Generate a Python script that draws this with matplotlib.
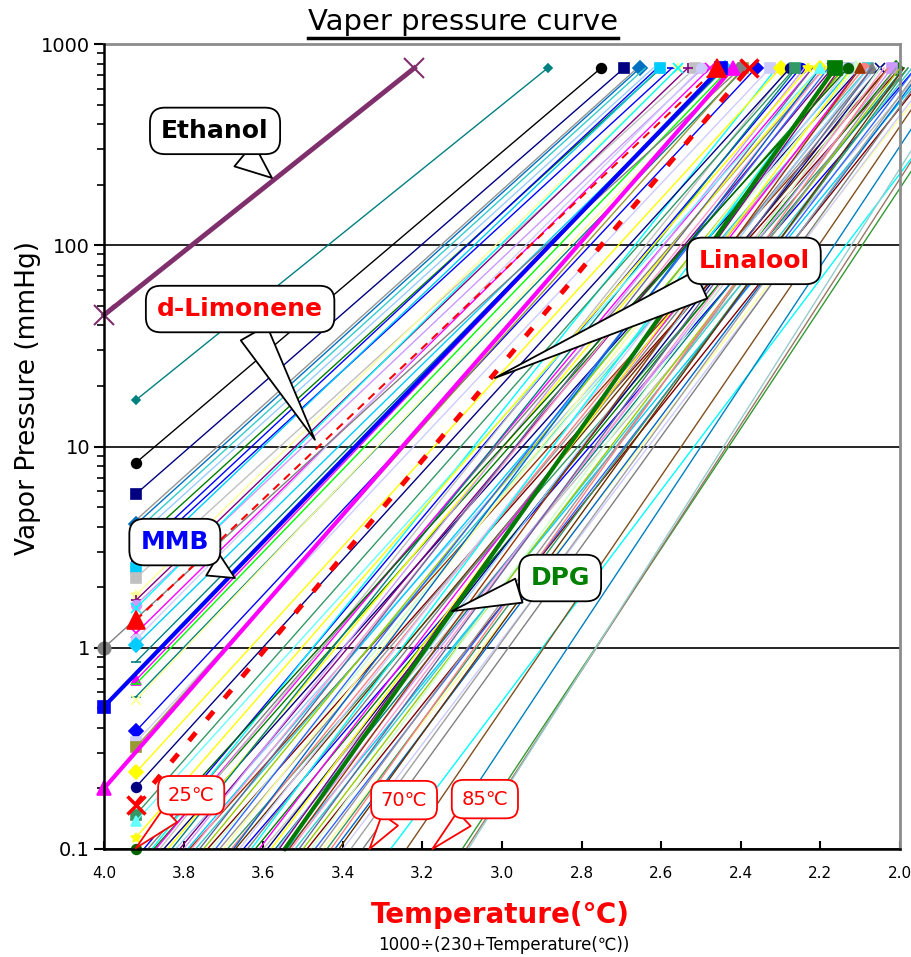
import matplotlib
matplotlib.use('Agg')
import matplotlib.pyplot as plt
from matplotlib.lines import Line2D
from matplotlib.patches import Rectangle
from matplotlib.ticker import FixedLocator, FixedFormatter, LogLocator, NullFormatter

plt.rcParams['font.family'] = ['DejaVu Sans', 'Noto Sans CJK JP']

# x axis value = 1000 / (230 + T);  25 C -> 3.92, boiling point -> P = 760 mmHg
X25 = 3.92
P_BOIL = 760

# compounds whose 25 C vapour pressure is on the chart: pressure at 25 C, x at boiling point
visible_p25 = [17.0, 8.3, 5.8, 4.3, 4.1, 3.8, 3.5, 3.2, 2.9, 2.7, 2.49, 2.22, 1.83,
               1.72, 1.63, 1.57, 1.18, 1.10, 1.03, 0.85, 0.69, 0.66, 0.57, 0.55,
               0.385, 0.34, 0.32, 0.24, 0.203, 0.148, 0.137, 0.114, 0.10]
visible_bp = [2.885, 2.751, 2.693, 2.66, 2.653, 2.64, 2.62, 2.60, 2.61, 2.573, 2.603,
              2.515, 2.558, 2.533, 2.495, 2.558, 2.477, 2.50, 2.44, 2.44, 2.45, 2.427,
              2.39, 2.407, 2.362, 2.327, 2.394, 2.30, 2.276, 2.264, 2.201, 2.231, 2.131]
visible_color = ['#008080', 'black', '#000080', '#969696', '#0070C0', '#33CCCC', '#99CCFF',
                 '#008000', '#0000FF', '#0000FF', '#00CCFF', '#C0C0C0', '#FFFF99', '#800080',
                 '#CC99FF', '#00FFFF', '#FF00FF', '#CCCCFF', '#00CCFF', '#008080', '#FF00FF',
                 '#00FF00', '#008080', '#FFFF99', '#0000FF', '#CCCCFF', '#999933', '#FFFF00',
                 '#000080', '#339966', '#66FFFF', '#FFFF00', '#006400']
visible_marker = ['D', 'o', 's', None, 'D', None, None, None, None, '_', 's', 's', '*',
                  '+', 'o', 'x', 'x', 'o', 'D', '_', '^', '_', '_', 'x', 'D', 's', 's',
                  'D', 'o', 's', '^', '*', 'o']

# compounds below 0.1 mmHg at 25 C: x where the line crosses 0.1 mmHg, x at boiling point
low_x0 = [3.90, 3.89, 3.88, 3.875, 3.87, 3.86, 3.85, 3.84, 3.83, 3.82, 3.81, 3.80, 3.79,
          3.785, 3.78, 3.77, 3.76, 3.75, 3.74, 3.73, 3.72, 3.71, 3.70, 3.69, 3.68, 3.675,
          3.67, 3.66, 3.65, 3.64, 3.63, 3.62, 3.61, 3.60, 3.59, 3.58, 3.57, 3.565, 3.56,
          3.55, 3.54, 3.535, 3.53, 3.52, 3.51, 3.50, 3.49, 3.48, 3.47, 3.46, 3.45, 3.44,
          3.43, 3.42, 3.41, 3.40, 3.38, 3.35, 3.28, 3.24, 3.17, 3.10, 3.09, 3.085]
low_bp = [2.25, 2.19, 2.31, 2.14, 2.22, 2.28, 2.10, 2.20, 2.26, 2.06, 2.17, 2.24, 2.12,
          2.03, 2.19, 2.08, 2.22, 2.14, 2.00, 2.11, 2.18, 2.05, 2.15, 1.98, 2.09, 2.20,
          2.03, 2.13, 1.96, 2.07, 2.16, 2.01, 2.10, 1.94, 2.05, 2.12, 1.99, 2.08, 2.15,
          2.02, 1.93, 2.10, 2.04, 1.97, 2.07, 2.00, 1.92, 2.05, 1.96, 2.01, 1.90, 1.98,
          2.03, 1.94, 1.99, 1.91, 1.95, 1.93, 1.80, 1.90, 1.87, 1.80, 1.82, 1.84]
low_palette = ['#0000FF', '#808080', '#00FFFF', '#008000', '#FF00FF', '#C0C0C0', '#000080',
               '#FFFF00', '#008080', '#99CCFF', '#800080', '#CC99FF', '#00CCFF', '#993300',
               '#FF99CC', '#33CCCC', '#666699', '#99CC00', '#800000', '#CCFFCC', '#3366FF',
               '#969696', '#FFFF99', '#339966', '#FF8080', '#0066CC', '#663300', '#CCCCFF']
low_last_colors = ['#A0A0A0', '#808080', '#00FFFF', '#7F4F1F', '#0080C0', '#339933',
                   '#997766', '#99CCCC']
low_markers = ['o', None, None, 's', None, '^', None, 'D', None, None, 'x', None]

# highlighted compounds
ethanol_x, ethanol_p = [4.0, 3.22], [45, 760]
mmb_x, mmb_p = [4.0, 2.45], [0.51, 760]
pink_x, pink_p = [4.0, 2.42], [0.2, 760]
grey_x, grey_p = [4.0, 2.40], [1.0, 760]
limonene_x, limonene_p = [3.92, 2.46], [1.37, 760]
linalool_x, linalool_p = [3.92, 2.38], [0.166, 760]
dpg_x, dpg_p = [3.546, 2.163], [0.1, 760]

W, H = 912, 957
fig = plt.figure(figsize=(W / 100, H / 100), dpi=100)
ax = fig.add_axes([104 / W, 1 - 849 / H, (900 - 104) / W, (849 - 44) / H])
ax.set_yscale('log')
ax.set_xlim(4.0, 2.0)
ax.set_ylim(0.1, 1000)

clip = Rectangle((-0.02, -0.015), 1.04, 1.03, transform=ax.transAxes)


def seg(x, p, color, lw=1.0, marker=None, ms=7, ends=(0, 1), mew=1.2, z=2, **kw):
    line, = ax.plot(x, p, color=color, lw=lw, marker=marker, ms=ms, mfc=color, mec=color,
                    mew=mew, markevery=list(ends), zorder=z, **kw)
    line.set_clip_path(clip)
    return line


n_pal = len(low_palette)
for i, (x0, bp) in enumerate(zip(low_x0, low_bp)):
    if i >= len(low_x0) - len(low_last_colors):
        c = low_last_colors[i - (len(low_x0) - len(low_last_colors))]
    else:
        c = low_palette[i % n_pal]
    m = low_markers[i % len(low_markers)] if bp >= 2.0 else None
    seg([x0, bp], [0.1, P_BOIL], c, marker=m, ends=(1,))

for p25, bp, c, m in zip(visible_p25, visible_bp, visible_color, visible_marker):
    ms = 4 if m == 'D' and p25 > 10 else 7
    seg([X25, bp], [p25, P_BOIL], c, marker=m, ms=ms)

seg(grey_x, grey_p, '#808080', marker='o', ms=9, z=3)
seg(pink_x, pink_p, '#FF00FF', lw=3, marker='^', ms=10, z=4)
seg(mmb_x, mmb_p, '#0000FF', lw=3, marker='s', ms=9, z=4)
seg(dpg_x, dpg_p, '#007A00', lw=3, marker='s', ms=10, ends=(1,), z=4)
seg(limonene_x, limonene_p, '#FF0000', lw=1.5, marker='^', ms=13, z=4, dashes=(4, 3))
seg(linalool_x, linalool_p, '#FF0000', lw=3.5, marker='x', ms=13, mew=2.5, z=5,
    dashes=(2.2, 3.5))
seg(ethanol_x, ethanol_p, '#7E2F6C', lw=3.5, marker='x', ms=14, mew=1.5, z=5)

# axes styling
ax.grid(axis='y', which='major', color='black', lw=1.2)
ax.yaxis.set_major_locator(FixedLocator([0.1, 1, 10, 100, 1000]))
ax.yaxis.set_major_formatter(FixedFormatter(['0.1', '1', '10', '100', '1000']))
ax.yaxis.set_minor_locator(LogLocator(base=10, subs=range(2, 10)))
ax.yaxis.set_minor_formatter(NullFormatter())
ax.tick_params(axis='y', which='major', direction='out', length=7, width=1.5, labelsize=14, pad=3)
ax.tick_params(axis='y', which='minor', direction='out', length=5, width=1.2)
ax.set_xticks([4.0, 3.8, 3.6, 3.4, 3.2, 3.0, 2.8, 2.6, 2.4, 2.2, 2.0])
ax.set_xticklabels(['4.0', '3.8', '3.6', '3.4', '3.2', '3.0', '2.8', '2.6', '2.4', '2.2', '2.0'])
ax.tick_params(axis='x', direction='in', length=6, width=1.5, labelsize=11, pad=12)
for s in ['left', 'bottom']:
    ax.spines[s].set_linewidth(1.8)
    ax.spines[s].set_zorder(6)
for s in ['top', 'right']:
    ax.spines[s].set_color('#8C8C8C')
    ax.spines[s].set_linewidth(2)


def callout(text, tip, box, color, edge, size, weight, tail, pad=0.45):
    ax.annotate(text, xy=tip, xytext=box, ha='center', va='center', color=color,
                fontsize=size, fontweight=weight, zorder=20, annotation_clip=False,
                bbox=dict(boxstyle='round,pad=%s,rounding_size=0.6' % pad, fc='white',
                          ec=edge, lw=1.3),
                arrowprops=dict(arrowstyle='wedge,tail_width=%s' % tail, fc='white',
                                ec=edge, lw=1.3, shrinkA=0, shrinkB=0))


callout('Ethanol', (3.578, 216), (3.721, 370), 'black', 'black', 18, 'bold', 1.2)
callout('d-Limonene', (3.470, 10.8), (3.658, 48.2), '#FF0000', 'black', 18, 'bold', 1.2)
callout('Linalool', (3.018, 21.9), (2.367, 83.6), '#FF0000', 'black', 18, 'bold', 1.2)
callout('MMB', (3.671, 2.22), (3.822, 3.35), '#0000FF', 'black', 18, 'bold', 1.0)
callout('DPG', (3.126, 1.52), (2.854, 2.22), '#008000', 'black', 18, 'bold', 1.0)
callout('25℃', (3.92, 0.101), (3.781, 0.185), '#FF0000', '#FF0000', 14, 'normal', 1.0, 0.5)
callout('70℃', (3.333, 0.1), (3.246, 0.175), '#FF0000', '#FF0000', 14, 'normal', 1.0, 0.5)
callout('85℃', (3.175, 0.1), (3.043, 0.177), '#FF0000', '#FF0000', 14, 'normal', 1.0, 0.5)

# titles and labels
title = fig.text(463 / W, 1 - 22 / H, 'Vaper pressure curve', ha='center', va='center',
                 fontsize=21)
fig.text(28 / W, 1 - 398 / H, 'Vapor Pressure (mmHg)', rotation=90, ha='center',
         va='center', fontsize=19)
fig.text(500 / W, 1 - 915 / H, 'Temperature(℃)', ha='center', va='center', fontsize=20,
         fontweight='bold', color='#FF0000')
fig.text(504 / W, 1 - 945 / H, '1000÷(230+Temperature(℃))', ha='center', va='center',
         fontsize=12)

fig.canvas.draw()
bb = title.get_window_extent()
fig.add_artist(Line2D([bb.x0 / W, bb.x1 / W], [(bb.y0 - 2) / H] * 2, color='black', lw=2.5))

fig.savefig('out.png', dpi=100)
